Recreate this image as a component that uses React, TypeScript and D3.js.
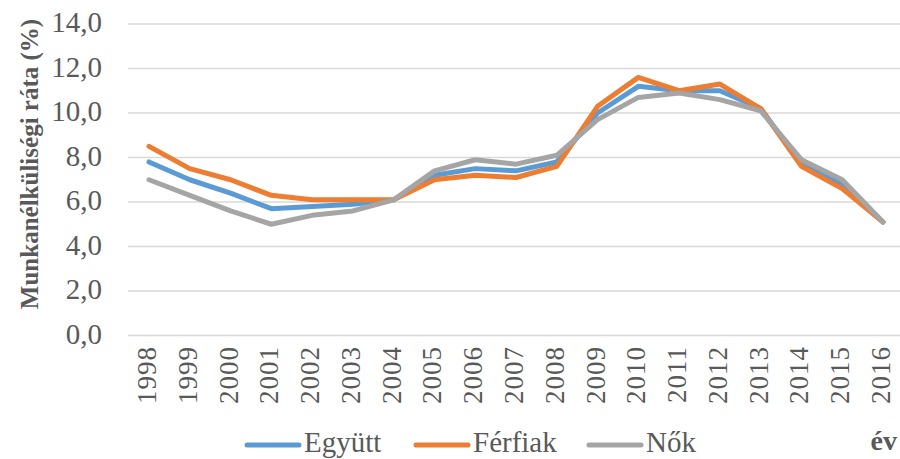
import React from "react";
import * as d3 from "d3";

const years = ["1998","1999","2000","2001","2002","2003","2004","2005","2006","2007","2008","2009","2010","2011","2012","2013","2014","2015","2016"];
const egyutt = [7.8, 7.0, 6.4, 5.7, 5.8, 5.9, 6.1, 7.2, 7.5, 7.4, 7.8, 10.0, 11.2, 11.0, 11.0, 10.2, 7.7, 6.8, 5.1];
const ferfiak = [8.5, 7.5, 7.0, 6.3, 6.1, 6.1, 6.1, 7.0, 7.2, 7.1, 7.6, 10.3, 11.6, 11.0, 11.3, 10.2, 7.6, 6.6, 5.1];
const nok = [7.0, 6.3, 5.6, 5.0, 5.4, 5.6, 6.1, 7.4, 7.9, 7.7, 8.1, 9.7, 10.7, 10.9, 10.6, 10.1, 7.9, 7.0, 5.1];
const yTicks = [0, 2, 4, 6, 8, 10, 12, 14];
const seriesNames = ["Együtt", "Férfiak", "Nők"];
const seriesColors = ["#5B9BD5", "#ED7D31", "#A5A5A5"];
const yTitle = "Munkanélküliségi ráta (%)";
const xTitle = "év";

const W = 900, H = 459;
const FONT = "Liberation Serif";

export default function App() {
  const x = d3.scalePoint<string>().domain(years).range([149, 883]);
  const y = d3.scaleLinear().domain([0, 14]).range([335.5, 24]);
  const line = d3.line<number>().x((_, i) => x(years[i]) as number).y((v) => y(v));
  const series = [egyutt, ferfiak, nok];
  const legendX = [245, 414, 587];
  const fmt = (v: number) => v.toFixed(1).replace(".", ",");

  return (
    <svg width={W} height={H} style={{ position: "absolute", left: 0, top: 0, background: "#fff" }}>
      <rect width={W} height={H} fill="#fff" />
      {yTicks.map((t) => (
        <g key={t}>
          <line x1={128} x2={904} y1={y(t)} y2={y(t)} stroke="#D9D9D9" strokeWidth={1.6} />
          <text x={102} y={y(t) - 2} textAnchor="end" dominantBaseline="central" fontFamily={FONT} fontSize={29} fill="#595959">{fmt(t)}</text>
        </g>
      ))}
      {years.map((yr) => (
        <text key={yr} transform={`translate(${(x(yr) as number) - 2},346) rotate(-90)`} textAnchor="end" dominantBaseline="central" fontFamily={FONT} fontSize={27} letterSpacing={1} fill="#595959">{yr}</text>
      ))}
      {series.map((s, i) => (
        <path key={i} d={line(s) || ""} fill="none" stroke={seriesColors[i]} strokeWidth={5} strokeLinejoin="round" strokeLinecap="round" />
      ))}
      <text transform="translate(29,164) rotate(-90)" textAnchor="middle" dominantBaseline="central" fontFamily={FONT} fontSize={25} fontWeight="bold" fill="#595959">{yTitle}</text>
      <text x={897} y={450} textAnchor="end" fontFamily={FONT} fontSize={28} fontWeight="bold" fill="#595959">{xTitle}</text>
      {seriesNames.map((n, i) => (
        <g key={n}>
          <line x1={legendX[i] + 2} x2={legendX[i] + 54} y1={445} y2={445} stroke={seriesColors[i]} strokeWidth={5} strokeLinecap="round" />
          <text x={legendX[i] + 59} y={452} fontFamily={FONT} fontSize={29} fill="#595959">{n}</text>
        </g>
      ))}
    </svg>
  );
}
